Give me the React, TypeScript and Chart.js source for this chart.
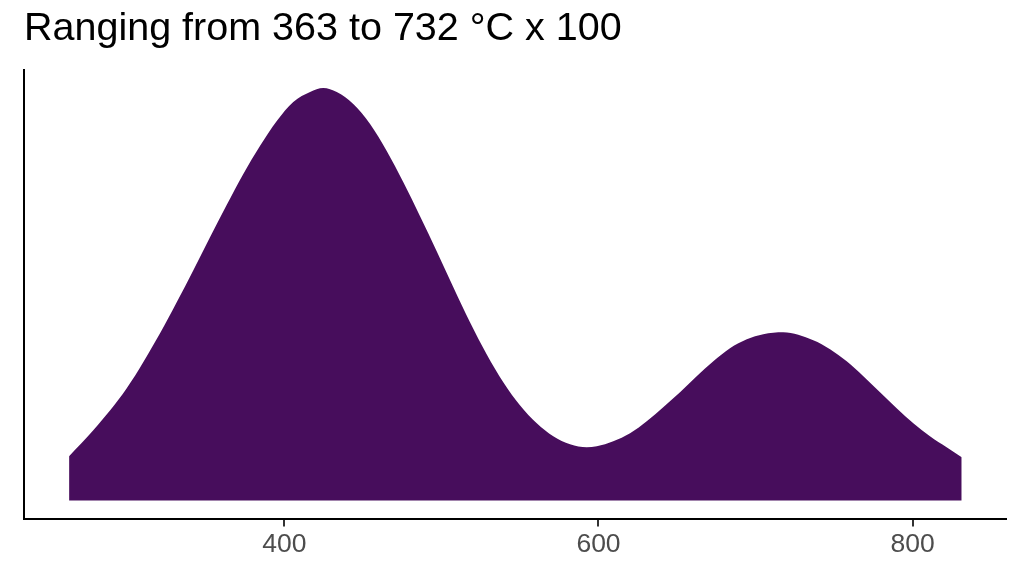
import { useEffect, useRef } from 'react';
import { Chart } from 'chart.js/auto';

// temperature (°C x 100) and density (x1000)
const temps = [263.0, 278.4, 299.7, 320.9, 331.5, 342.1, 352.7, 363.3, 373.9, 384.5, 395.2, 405.7, 416.4, 424.8, 433.4, 443.9, 454.6, 465.2, 475.7, 486.4, 497.0, 507.6, 518.2, 528.8, 539.4, 550.0, 560.7, 571.2, 581.9, 592.5, 598.9, 609.4, 620.1, 630.7, 641.2, 651.9, 662.5, 673.1, 683.7, 694.4, 704.9, 717.6, 736.7, 747.4, 758.0, 768.6, 779.2, 789.8, 800.4, 811.0, 821.6, 831.2];
const density = [0.44, 0.70, 1.12, 1.67, 1.98, 2.30, 2.63, 2.95, 3.26, 3.54, 3.79, 3.98, 4.08, 4.12, 4.08, 3.96, 3.76, 3.49, 3.18, 2.84, 2.49, 2.13, 1.78, 1.46, 1.18, 0.95, 0.77, 0.64, 0.56, 0.53, 0.54, 0.59, 0.67, 0.79, 0.93, 1.08, 1.24, 1.39, 1.52, 1.61, 1.66, 1.68, 1.60, 1.51, 1.39, 1.24, 1.08, 0.92, 0.77, 0.64, 0.53, 0.43];
const xTicks = [400, 600, 800];
const titleText = 'Ranging from 363 to 732 °C x 100';

export default function App() {
    const canvasRef = useRef<HTMLCanvasElement>(null);
    const chartRef = useRef<Chart | null>(null);

    useEffect(() => {
        document.body.style.margin = '0';
        if (!canvasRef.current) return;
        const ctx = canvasRef.current.getContext('2d');
        if (!ctx) return;

        if (chartRef.current) {
            chartRef.current.destroy();
        }

        chartRef.current = new Chart(ctx, {
            type: 'line',
            data: {
                datasets: [{
                    data: temps.map((t, i) => ({ x: t, y: density[i] })),
                    backgroundColor: '#470d5c',
                    borderColor: '#470d5c',
                    borderWidth: 0,
                    pointRadius: 0,
                    fill: 'origin',
                    cubicInterpolationMode: 'monotone'
                }]
            },
            options: {
                animation: false,
                responsive: true,
                maintainAspectRatio: false,
                layout: { padding: { left: 24, right: 18, top: 0, bottom: 12.6 } },
                plugins: {
                    legend: { display: false },
                    tooltip: { enabled: false },
                    title: {
                        display: true,
                        text: titleText,
                        align: 'start',
                        color: '#000',
                        font: { family: '"Liberation Sans", Arial, sans-serif', size: 39.5, weight: 'normal' },
                        padding: { top: 5.9, bottom: 16.7 }
                    }
                },
                scales: {
                    x: {
                        type: 'linear',
                        min: 234.3,
                        max: 859.4,
                        afterBuildTicks: (axis) => {
                            axis.ticks = xTicks.map((v) => ({ value: v }));
                        },
                        grid: {
                            display: true,
                            drawOnChartArea: false,
                            drawTicks: true,
                            tickLength: 7,
                            color: '#333333',
                            lineWidth: 2
                        },
                        border: { display: true, color: '#000', width: 2 },
                        ticks: {
                            color: '#4d4d4d',
                            padding: 2.6,
                            maxRotation: 0,
                            autoSkip: false,
                            font: { family: '"Liberation Sans", Arial, sans-serif', size: 26.5 }
                        }
                    },
                    y: {
                        min: -0.19,
                        max: 4.3,
                        grid: { display: false, drawTicks: false },
                        border: { display: true, color: '#000', width: 2 },
                        ticks: { display: false }
                    }
                }
            }
        });

        return () => {
            if (chartRef.current) {
                chartRef.current.destroy();
                chartRef.current = null;
            }
        };
    }, []);

    return (
        <div style={{ width: 1024, height: 576, position: 'relative', background: '#fff' }}>
            <canvas ref={canvasRef}></canvas>
        </div>
    );
}
